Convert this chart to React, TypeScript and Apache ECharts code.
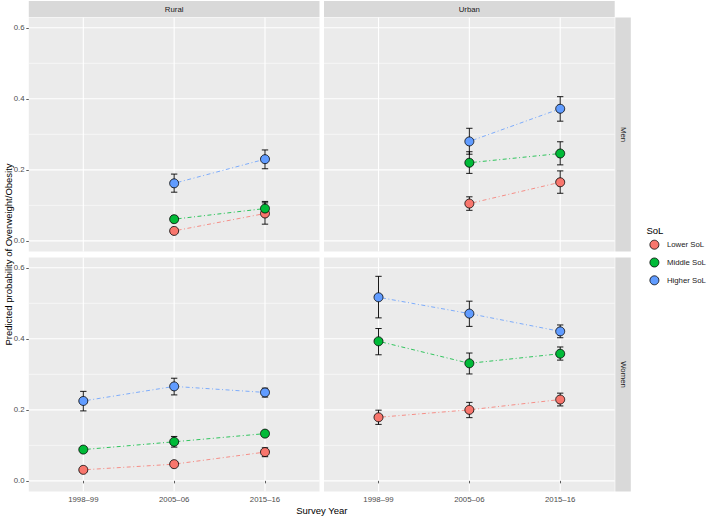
import React, { useEffect, useRef } from "react";
import * as echarts from "echarts";

// ---------- data ----------
const years = ["1998–99", "2005–06", "2015–16"];
const groups = ["Lower SoL", "Middle SoL", "Higher SoL"];
const colors = ["#F8766D", "#00BA38", "#619CFF"];
const yMajor = [0, 0.2, 0.4, 0.6];
const yMinor = [0.1, 0.3, 0.5];
const xPos = [1, 2, 3];

// each entry: [estimate, lower, upper] or null when not surveyed
type Pt = [number, number, number] | null;
const ruralMenLower: Pt[] = [null, [0.028, 0.022, 0.035], [0.077, 0.047, 0.107]];
const ruralMenMiddle: Pt[] = [null, [0.061, 0.053, 0.07], [0.091, 0.073, 0.111]];
const ruralMenHigher: Pt[] = [null, [0.162, 0.137, 0.188], [0.23, 0.203, 0.256]];
const urbanMenLower: Pt[] = [null, [0.105, 0.086, 0.124], [0.165, 0.134, 0.197]];
const urbanMenMiddle: Pt[] = [null, [0.22, 0.19, 0.251], [0.246, 0.214, 0.279]];
const urbanMenHigher: Pt[] = [null, [0.28, 0.244, 0.317], [0.372, 0.337, 0.406]];
const ruralWomenLower: Pt[] = [[0.031, 0.025, 0.038], [0.047, 0.04, 0.055], [0.081, 0.068, 0.093]];
const ruralWomenMiddle: Pt[] = [[0.088, 0.08, 0.096], [0.11, 0.095, 0.125], [0.133, 0.125, 0.141]];
const ruralWomenHigher: Pt[] = [[0.225, 0.197, 0.252], [0.266, 0.242, 0.289], [0.249, 0.236, 0.261]];
const urbanWomenLower: Pt[] = [[0.179, 0.159, 0.199], [0.2, 0.178, 0.221], [0.229, 0.211, 0.247]];
const urbanWomenMiddle: Pt[] = [[0.393, 0.355, 0.429], [0.331, 0.301, 0.36], [0.358, 0.34, 0.377]];
const urbanWomenHigher: Pt[] = [[0.517, 0.459, 0.576], [0.471, 0.435, 0.506], [0.421, 0.403, 0.439]];

const X_MIN = 0.4;
const X_MAX = 3.6;
const Y_MIN = -0.03;
const Y_MAX = 0.629;

const FONT = "'Liberation Sans', Arial, sans-serif";

const panels = [
  { grid: { left: 28.8, top: 17.5, width: 290.7, height: 234 }, series: [ruralMenLower, ruralMenMiddle, ruralMenHigher], showY: true, showX: false },
  { grid: { left: 324, top: 17.5, width: 290.7, height: 234 }, series: [urbanMenLower, urbanMenMiddle, urbanMenHigher], showY: false, showX: false },
  { grid: { left: 28.8, top: 257.5, width: 290.7, height: 234 }, series: [ruralWomenLower, ruralWomenMiddle, ruralWomenHigher], showY: true, showX: true },
  { grid: { left: 324, top: 257.5, width: 290.7, height: 234 }, series: [urbanWomenLower, urbanWomenMiddle, urbanWomenHigher], showY: false, showX: true },
];

export default function App() {
  const ref = useRef<HTMLDivElement>(null);
  useEffect(() => {
    document.body.style.margin = "0";
    const chart = echarts.init(ref.current!, null, { renderer: "svg" });

    const grids: any[] = [];
    const xAxes: any[] = [];
    const yAxes: any[] = [];
    const series: any[] = [];

    panels.forEach((p, i) => {
      grids.push({ ...p.grid, show: true, backgroundColor: "#EBEBEB", borderWidth: 0 });
      xAxes.push({
        type: "value",
        gridIndex: i,
        min: X_MIN,
        max: X_MAX,
        axisLine: { show: false },
        splitLine: { show: false },
        axisTick: { show: p.showX, customValues: xPos, length: 2.5, lineStyle: { color: "#333333", width: 0.8 } },
        axisLabel: {
          show: p.showX,
          customValues: xPos,
          margin: 3.5,
          fontSize: 7.8,
          color: "#4D4D4D",
          fontFamily: FONT,
          formatter: (v: number) => years[Math.round(v) - 1] ?? "",
        },
      });
      yAxes.push({
        type: "value",
        gridIndex: i,
        min: Y_MIN,
        max: Y_MAX,
        axisLine: { show: false },
        splitLine: { show: false },
        axisTick: { show: p.showY, customValues: yMajor, length: 2.5, lineStyle: { color: "#333333", width: 0.8 } },
        axisLabel: {
          show: p.showY,
          customValues: yMajor,
          margin: 4.2,
          fontSize: 7.8,
          color: "#4D4D4D",
          fontFamily: FONT,
          formatter: (v: number) => v.toFixed(1),
        },
      });

      // panel grid lines drawn through the axes' scales
      series.push({
        type: "custom",
        xAxisIndex: i,
        yAxisIndex: i,
        silent: true,
        z: 0,
        data: [[2, 0.3]],
        renderItem: (_params: any, api: any) => {
          const children: any[] = [];
          yMinor.forEach((v) => {
            const a = api.coord([X_MIN, v]);
            const b = api.coord([X_MAX, v]);
            children.push({ type: "line", shape: { x1: a[0], y1: a[1], x2: b[0], y2: b[1] }, style: { stroke: "#FFFFFF", lineWidth: 0.55 } });
          });
          yMajor.forEach((v) => {
            const a = api.coord([X_MIN, v]);
            const b = api.coord([X_MAX, v]);
            children.push({ type: "line", shape: { x1: a[0], y1: a[1], x2: b[0], y2: b[1] }, style: { stroke: "#FFFFFF", lineWidth: 1.1 } });
          });
          xPos.forEach((v) => {
            const a = api.coord([v, Y_MIN]);
            const b = api.coord([v, Y_MAX]);
            children.push({ type: "line", shape: { x1: a[0], y1: a[1], x2: b[0], y2: b[1] }, style: { stroke: "#FFFFFF", lineWidth: 1.1 } });
          });
          return { type: "group", children };
        },
      });

      p.series.forEach((pts, g) => {
        const valid = pts
          .map((pt, k) => (pt ? [xPos[k], pt[0], pt[1], pt[2]] : null))
          .filter((d) => d !== null) as number[][];
        series.push({
          type: "line",
          name: groups[g] + " trend",
          xAxisIndex: i,
          yAxisIndex: i,
          data: valid.map((d) => [d[0], d[1]]),
          showSymbol: false,
          symbol: "none",
          silent: true,
          z: 2,
          lineStyle: { color: colors[g], width: 0.8, type: [1, 2.5, 4, 2.5] },
        });
        series.push({
          type: "custom",
          name: groups[g] + " ci",
          xAxisIndex: i,
          yAxisIndex: i,
          silent: true,
          z: 3,
          data: valid.map((d) => [d[0], d[2], d[3]]),
          encode: { x: 0, y: [1, 2] },
          renderItem: (_params: any, api: any) => {
            const x = api.value(0);
            const lo = api.coord([x, api.value(1)]);
            const hi = api.coord([x, api.value(2)]);
            const half = api.size([0.035, 0])[0];
            const st = { stroke: "#000000", lineWidth: 0.9 };
            return {
              type: "group",
              children: [
                { type: "line", shape: { x1: lo[0], y1: lo[1], x2: hi[0], y2: hi[1] }, style: st },
                { type: "line", shape: { x1: hi[0] - half, y1: hi[1], x2: hi[0] + half, y2: hi[1] }, style: st },
                { type: "line", shape: { x1: lo[0] - half, y1: lo[1], x2: lo[0] + half, y2: lo[1] }, style: st },
              ],
            };
          },
        });
        series.push({
          type: "scatter",
          name: groups[g],
          xAxisIndex: i,
          yAxisIndex: i,
          data: valid.map((d) => [d[0], d[1]]),
          symbol: "circle",
          symbolSize: 9,
          z: 4,
          itemStyle: { color: colors[g], borderColor: "#000000", borderWidth: 0.8, opacity: 1 },
        });
      });
    });

    const stripStyle = { fill: "#D9D9D9" };
    const stripText = { fill: "#1A1A1A", fontSize: 7.8, fontFamily: FONT, textAlign: "center", textVerticalAlign: "middle" };

    chart.setOption({
      animation: false,
      backgroundColor: "#FFFFFF",
      grid: grids,
      xAxis: xAxes,
      yAxis: yAxes,
      series,
      legend: {
        data: groups,
        orient: "vertical",
        left: 649.5,
        top: 239.8,
        padding: 0,
        itemWidth: 9,
        itemHeight: 9,
        itemGap: 8,
        icon: "circle",
        selectedMode: false,
        itemStyle: { borderColor: "#000000", borderWidth: 0.8 },
        textStyle: { fontSize: 7.8, color: "#1A1A1A", fontFamily: FONT, lineHeight: 9, padding: [0, 0, 0, 3] },
      },
      graphic: [
        { type: "rect", shape: { x: 28.8, y: 1, width: 290.7, height: 16 }, style: stripStyle },
        { type: "text", x: 28.8 + 290.7 / 2, y: 9, style: { ...stripText, text: "Rural" } },
        { type: "rect", shape: { x: 324, y: 1, width: 290.7, height: 16 }, style: stripStyle },
        { type: "text", x: 324 + 290.7 / 2, y: 9, style: { ...stripText, text: "Urban" } },
        { type: "rect", shape: { x: 615.3, y: 17.5, width: 15.5, height: 234 }, style: stripStyle },
        { type: "text", x: 623, y: 17.5 + 117, rotation: -Math.PI / 2, style: { ...stripText, text: "Men" } },
        { type: "rect", shape: { x: 615.3, y: 257.5, width: 15.5, height: 234 }, style: stripStyle },
        { type: "text", x: 623, y: 257.5 + 117, rotation: -Math.PI / 2, style: { ...stripText, text: "Women" } },
        {
          type: "text",
          x: 8.5,
          y: 254.5,
          rotation: Math.PI / 2,
          style: { text: "Predicted probability of Overweight/Obesity", fill: "#000000", fontSize: 9.5, fontFamily: FONT, textAlign: "center", textVerticalAlign: "middle" },
        },
        {
          type: "text",
          x: 321.8,
          y: 510,
          style: { text: "Survey Year", fill: "#000000", fontSize: 9.5, fontFamily: FONT, textAlign: "center", textVerticalAlign: "middle" },
        },
        {
          type: "text",
          x: 646.5,
          y: 230.5,
          style: { text: "SoL", fill: "#000000", fontSize: 9.5, fontFamily: FONT, textAlign: "left", textVerticalAlign: "middle" },
        },
      ],
    });
    return () => chart.dispose();
  }, []);
  return <div ref={ref} style={{ width: 709, height: 517 }} />;
}
